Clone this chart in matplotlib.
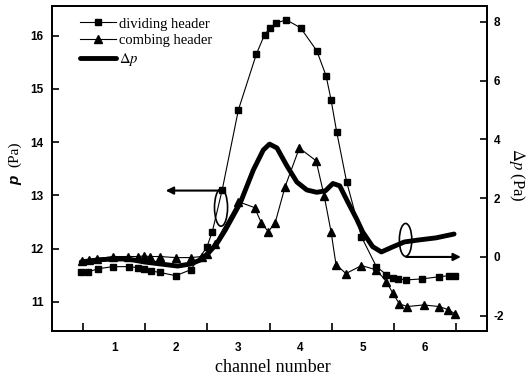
import matplotlib
matplotlib.use('Agg')
import matplotlib.pyplot as plt
from matplotlib.patches import Ellipse

plt.rcParams['mathtext.fontset'] = 'stix'

# ---------------- data ----------------
div_x = [0.47, 0.58, 0.74, 0.98, 1.24, 1.38, 1.48, 1.59, 1.74, 1.99, 2.23, 2.49, 2.58, 2.74,
         3.00, 3.29, 3.42, 3.51, 3.61, 3.77, 4.00, 4.26, 4.41, 4.49, 4.58, 4.74, 4.98, 5.22,
         5.38, 5.48, 5.56, 5.70, 5.96, 6.23, 6.39, 6.49]
div_p = [11.56, 11.56, 11.62, 11.66, 11.66, 11.64, 11.62, 11.58, 11.55, 11.49, 11.60, 12.02, 12.32, 13.11,
         14.61, 15.66, 16.02, 16.15, 16.24, 16.30, 16.15, 15.72, 15.25, 14.80, 14.20, 13.26, 12.22, 11.66,
         11.51, 11.45, 11.43, 11.41, 11.43, 11.47, 11.49, 11.49]

comb_x = [0.49, 0.60, 0.73, 0.98, 1.22, 1.38, 1.48, 1.58, 1.74, 1.99, 2.23, 2.41, 2.50, 2.62,
          3.00, 3.26, 3.37, 3.48, 3.59, 3.75, 3.98, 4.25, 4.38, 4.49, 4.57, 4.73, 4.98, 5.22,
          5.38, 5.48, 5.59, 5.72, 5.98, 6.23, 6.38, 6.49]
comb_p = [11.77, 11.79, 11.81, 11.85, 11.85, 11.85, 11.86, 11.85, 11.85, 11.83, 11.83, 11.85, 11.90, 12.09,
          12.88, 12.77, 12.48, 12.32, 12.48, 13.16, 13.89, 13.65, 12.99, 12.32, 11.70, 11.53, 11.68, 11.60,
          11.38, 11.17, 10.96, 10.91, 10.94, 10.91, 10.85, 10.77]

dp_x = [0.47, 0.74, 0.98, 1.22, 1.48, 1.75, 2.02, 2.23, 2.39, 2.52, 2.66, 2.79, 3.03, 3.24, 3.40,
        3.50, 3.62, 3.78, 3.94, 4.10, 4.26, 4.40, 4.52, 4.63, 4.76, 4.90, 5.00, 5.16, 5.30, 5.48,
        5.67, 5.91, 6.18, 6.47]
dp_v = [-0.17, -0.10, -0.07, -0.07, -0.17, -0.24, -0.31, -0.24, -0.10, 0.14, 0.48, 0.92, 1.84, 2.96, 3.64,
        3.84, 3.71, 3.10, 2.55, 2.28, 2.20, 2.25, 2.50, 2.42, 1.87, 1.30, 0.85, 0.35, 0.17, 0.34,
        0.51, 0.58, 0.65, 0.78]

x_tick_labels = ['1', '2', '3', '4', '5', '6']
x_label_pos = [1, 2, 3, 4, 5, 6]
x_major_ticks = [0.5, 1.5, 2.5, 3.5, 4.5, 5.5, 6.5]
left_ticks = [11, 12, 13, 14, 15, 16]
right_ticks = [-2, 0, 2, 4, 6, 8]

# ---------------- figure ----------------
fig = plt.figure(figsize=(5.27, 3.80), dpi=100)
ax = fig.add_axes([52 / 527, 1 - 331 / 380, 435 / 527, 325 / 380])
ax2 = ax.twinx()

l1, = ax.plot(div_x, div_p, color='black', lw=0.8, marker='s', ms=5, label='dividing header')
l2, = ax.plot(comb_x, comb_p, color='black', lw=0.8, marker='^', ms=6, label='combing header')
l3, = ax2.plot(dp_x, dp_v, color='black', lw=3.5, solid_joinstyle='round',
               solid_capstyle='round', label=r'$\Delta p$')

ax.set_xlim(0, 7)
ax.set_ylim(10.45, 16.56)
ax2.set_ylim(-2.52, 8.54)

tick_font = dict(family='Liberation Sans', weight='bold', size=8.5)

ax.set_xticks(x_major_ticks)
ax.set_xticklabels([])
ax.set_xticks(x_label_pos, minor=True)
ax.set_xticklabels(x_tick_labels, minor=True, fontdict=tick_font)
ax.tick_params(axis='x', which='major', direction='in', length=6, width=1.2, top=False)
ax.tick_params(axis='x', which='minor', length=0, pad=8)

ax.set_yticks(left_ticks)
ax.set_yticklabels([str(t) for t in left_ticks], fontdict=tick_font)
ax.tick_params(axis='y', direction='in', length=5, width=1.2, pad=6)

ax2.set_yticks(right_ticks)
ax2.set_yticklabels([str(t) for t in right_ticks], fontdict=tick_font)
ax2.tick_params(axis='y', direction='in', length=5, width=1.2, pad=5)

for a in (ax, ax2):
    for s in a.spines.values():
        s.set_linewidth(1.3)

# annotations (ellipses + arrows)
ax.add_patch(Ellipse((2.72, 12.77), 0.21, 0.70, fill=False, lw=1.2, color='black'))
ax.annotate('', xy=(1.83, 13.09), xytext=(2.74, 13.09),
            arrowprops=dict(arrowstyle='-|>', lw=1.5, color='black', mutation_scale=11,
                            shrinkA=0, shrinkB=0))
ax2.add_patch(Ellipse((5.69, 0.58), 0.20, 1.12, fill=False, lw=1.2, color='black'))
ax2.annotate('', xy=(6.58, 0.0), xytext=(5.70, 0.0),
             arrowprops=dict(arrowstyle='-|>', lw=1.5, color='black', mutation_scale=11,
                             shrinkA=0, shrinkB=0))

# legend
leg = ax2.legend(handles=[l1, l2, l3], loc='upper left', bbox_to_anchor=(0.064, 0.965),
                 frameon=False, borderpad=0, borderaxespad=0, handlelength=2.5,
                 handletextpad=0.2, labelspacing=0.25,
                 prop=dict(family='Liberation Serif', size=10.5))

# axis labels
fig.text(273 / 527, 1 - 368 / 380, 'channel number', family='Liberation Serif', size=13,
         ha='center', va='center')
fig.text(15 / 527, 1 - 154 / 380, '(Pa)', family='Liberation Serif', size=11,
         rotation=90, ha='center', va='center')
fig.text(15 / 527, 1 - 180 / 380, 'p', family='Liberation Sans', weight='bold', style='italic',
         size=11, rotation=90, ha='center', va='center')
fig.text(517 / 527, 1 - 175 / 380, r'$\Delta p$ (Pa)', family='Liberation Serif', size=12,
         rotation=270, ha='center', va='center')

fig.savefig('out.png', dpi=100)
